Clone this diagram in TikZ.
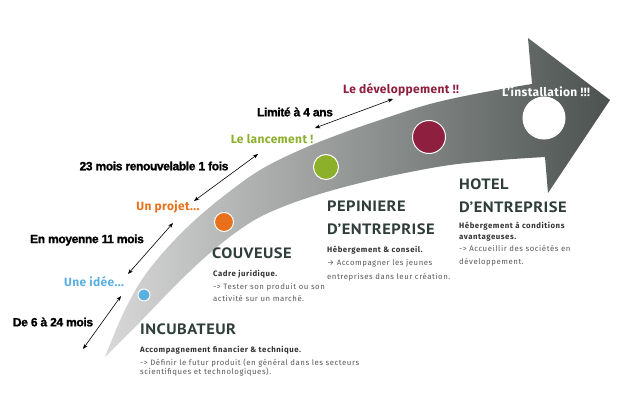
\documentclass[tikz,border=0pt]{standalone}
\usepackage{fontspec}
\setmainfont{Fira Sans}
\newfontfamily\narrowfont[LetterSpace=-3, FakeBold=1.4]{Liberation Sans Bold}
\newfontfamily\titlefont[FakeStretch=1.1, LetterSpace=3]{PT Sans}
\newfontfamily\stagefont[LetterSpace=3]{Fira Sans}
\newfontfamily\descfont[LetterSpace=7]{Fira Sans}
\usetikzlibrary{arrows.meta,positioning}
\definecolor{ideeblue}{HTML}{5BB0E0}
\definecolor{projetorange}{HTML}{E8701A}
\definecolor{lancegreen}{HTML}{8DB02B}
\definecolor{devred}{HTML}{8E1F3F}
\definecolor{slate}{HTML}{2F3E3A}
\definecolor{descgray}{HTML}{5A5A5A}
\definecolor{descdark}{HTML}{333333}
\definecolor{bandlight}{HTML}{D8D8D8}
\definecolor{bandmid}{HTML}{9C9C9C}
\definecolor{banddark}{HTML}{4B524F}

\begin{document}
\begin{tikzpicture}[x=1pt, y=-1pt,
    dot/.style={circle, draw=white, line width=1pt, fill=#1, inner sep=0pt},
    dur/.style={font=\narrowfont\fontsize{12}{12}\selectfont, inner sep=0pt},
    stage/.style={font=\stagefont\bfseries\fontsize{12}{12}\selectfont, text=#1, inner sep=0pt},
    title/.style={font=\titlefont\bfseries\fontsize{15}{22.5}\selectfont, text=slate,
        inner sep=0pt, anchor=west, align=left},
    desc/.style={font=\descfont\fontsize{7.8}{12.5}\selectfont, text=descgray,
        inner sep=0pt, anchor=north west, align=left},
    arr/.style={{Stealth[length=1.8mm]}-{Stealth[length=1.8mm]}, semithick}
]
\useasboundingbox[fill=white] (0,0) rectangle (630,420);

% the sweeping arrow
\path[left color=bandlight, middle color=bandmid, right color=banddark]
    plot[smooth, tension=0.6] coordinates {(105,357) (118,325) (130,300) (145,275)
        (168,247) (195,220) (225,195) (260,170) (300,150) (340,134) (380,120)
        (430,104) (480,93) (532,84)}
    -- (528,38) -- (610,100) -- (548,193) -- (545,157)
    -- plot[smooth, tension=0.6] coordinates {(545,157) (500,160) (450,165)
        (400,174) (360,183) (323,193) (290,204) (260,217) (235,233) (210,253)
        (188,273) (165,296) (140,322) (120,342) (105,357)}
    -- cycle;

% stage dots
\node[dot=ideeblue, minimum size=12pt] (dotidee) at (144,295) {};
\node[dot=projetorange, minimum size=19pt] (dotprojet) at (224,222) {};
\node[dot=lancegreen, minimum size=25pt] (dotlance) at (326,167) {};
\node[dot=devred, minimum size=33pt] (dotdev) at (429,137) {};
\node[dot=white, minimum size=42pt] (dotinstall) at (544,118) {};

% stage labels
\node[stage=ideeblue] (idee) at (94,282) {Une idée...};
\node[stage=projetorange] (projet) at (168,207) {Un projet...};
\node[stage=lancegreen] (lance) at (272,139) {Le lancement !};
\node[stage=devred] (dev) at (401,90) {Le développement !!};
\node[stage=white] (install) at (546,92) {L’installation !!!};

% durations
\node[dur] (dur1) at (53,322) {De 6 à 24 mois};
\node[dur] (dur2) at (87,240) {En moyenne 11 mois};
\node[dur] (dur3) at (154,166) {23 mois renouvelable 1 fois};
\node[dur] (dur4) at (295,112) {Limité à 4 ans};

\coordinate (d1a) at (83,349);  \coordinate (d1b) at (121,296);
\coordinate (d2a) at (128,274); \coordinate (d2b) at (173,223);
\coordinate (d3a) at (194,201); \coordinate (d3b) at (258,154);
\coordinate (d4a) at (315,128); \coordinate (d4b) at (393,99);
\draw[arr] (d1a) -- (d1b);
\draw[arr] (d2a) -- (d2b);
\draw[arr] (d3a) -- (d3b);
\draw[arr] (d4a) -- (d4b);

% structures
\node[title] (incub) at (140,329) {INCUBATEUR};
\node[desc] (incubtxt) at (140,346) {\textcolor{descdark}{\bfseries Accompagnement financier \& technique.}\\
    -> Définir le futur produit (en général dans les secteurs\\[-3pt]
    scientifiques et technologiques).};
\node[title] (couv) at (212,253) {COUVEUSE};
\node[desc] (couvtxt) at (213,270) {\textcolor{descdark}{\bfseries Cadre juridique.}\\
    -> Tester son produit ou son\\ activité sur un marché.};
\node[title] (pep) at (327,218) {PEPINIERE\\D’ENTREPRISE};
\node[desc] (peptxt) at (327,246) {\textcolor{descdark}{\bfseries Hébergement \& conseil.}\\
    → Accompagner les jeunes\\[2pt] entreprises dans leur création.};
\node[title] (hotel) at (459,195.5) {HOTEL\\D’ENTREPRISE};
\node[desc] (hoteltxt) at (459,222) {\textcolor{descdark}{\bfseries Hébergement à conditions}\\[-2pt]
    \textcolor{descdark}{\bfseries avantageuses.}\\ -> Accueillir des sociétés en\\ développement.};
\end{tikzpicture}
\end{document}
